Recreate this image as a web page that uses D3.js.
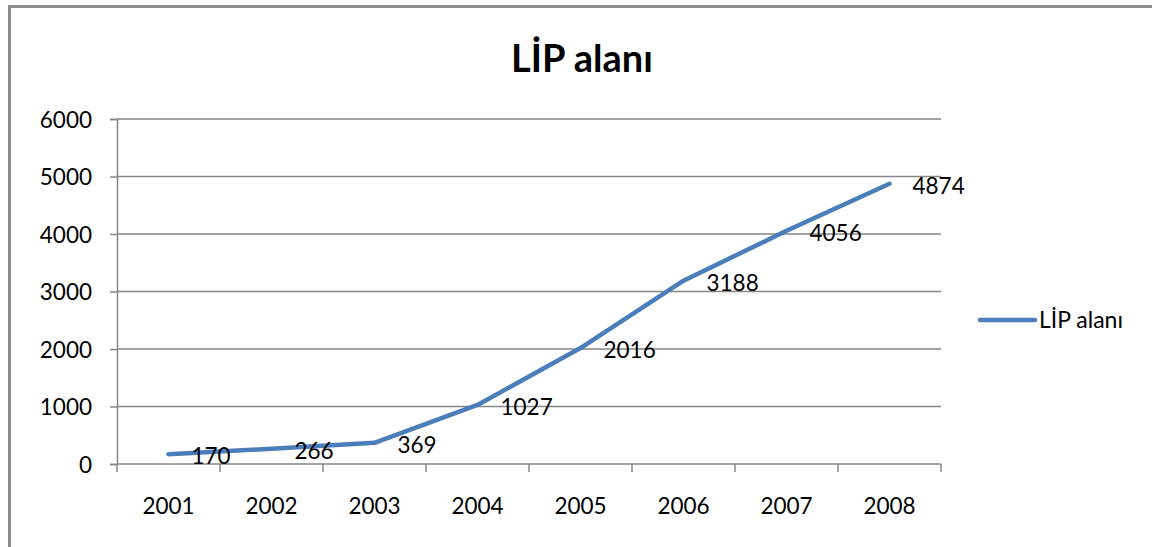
<!DOCTYPE html>
<html>
<head>
<meta charset="utf-8">
<script src="https://cdn.jsdelivr.net/npm/d3@7"></script>
<style>
  html, body { margin: 0; padding: 0; background: #fff; }
  svg { display: block; font-family: Lato, "Liberation Sans", sans-serif; }
</style>
</head>
<body>
<svg id="chart" width="1152" height="547"></svg>
<script>
// Yearly LİP area values
const years = ["2001", "2002", "2003", "2004", "2005", "2006", "2007", "2008"];
const values = [170, 266, 369, 1027, 2016, 3188, 4056, 4874];
const yTicks = [0, 1000, 2000, 3000, 4000, 5000, 6000];
const seriesName = "LİP alanı";
const chartTitle = "LİP alanı";

const svg = d3.select("#chart");
const W = 1152, H = 547;
const plot = { left: 117, right: 941, top: 119, bottom: 464 };
const gridColor = "#868686";
const lineColor = "#4a7ebb";
const labelSize = 22.5;

// outer chart frame (only top and left edges fall inside the view)
svg.append("path")
  .attr("d", `M9.5,${H + 5} V6.5 H${W + 5}`)
  .attr("fill", "none")
  .attr("stroke", "#8c8c8c")
  .attr("stroke-width", 3);

const x = d3.scaleBand().domain(years).range([plot.left, plot.right]).padding(0);
const y = d3.scaleLinear().domain([0, 6000]).range([plot.bottom, plot.top]);

// horizontal gridlines
svg.append("g")
  .selectAll("line")
  .data(yTicks.filter(t => t > 0))
  .join("line")
  .attr("x1", plot.left).attr("x2", plot.right)
  .attr("y1", d => y(d)).attr("y2", d => y(d))
  .attr("stroke", gridColor).attr("stroke-width", 1.5);

// y axis
const yAxis = svg.append("g")
  .attr("transform", `translate(${plot.left},0)`)
  .call(d3.axisLeft(y).tickValues(yTicks).tickSize(7).tickPadding(18).tickFormat(d3.format("d")));
yAxis.select(".domain").attr("stroke", gridColor).attr("stroke-width", 1.5);
yAxis.selectAll(".tick line").attr("stroke", gridColor).attr("stroke-width", 1.5);
yAxis.selectAll(".tick text")
  .attr("font-size", labelSize).attr("fill", "#000").attr("font-family", "Lato, sans-serif")
  .attr("dy", "0.36em");

// x axis with ticks between categories
const xAxisG = svg.append("g").attr("transform", `translate(0,${plot.bottom})`);
xAxisG.append("line")
  .attr("x1", plot.left).attr("x2", plot.right)
  .attr("stroke", gridColor).attr("stroke-width", 1.5);
const boundaries = years.map(d => x(d)).concat([x(years[years.length - 1]) + x.bandwidth()]);
xAxisG.selectAll("line.tk")
  .data(boundaries)
  .join("line")
  .attr("class", "tk")
  .attr("x1", d => d).attr("x2", d => d)
  .attr("y1", 0).attr("y2", 8)
  .attr("stroke", gridColor).attr("stroke-width", 1.5);
xAxisG.selectAll("text")
  .data(years)
  .join("text")
  .attr("x", d => x(d) + x.bandwidth() / 2)
  .attr("y", 50)
  .attr("text-anchor", "middle")
  .attr("font-size", labelSize)
  .attr("fill", "#000")
  .text(d => d);

// data line
const pts = years.map((yr, i) => ({ yr, v: values[i] }));
const line = d3.line()
  .x(d => x(d.yr) + x.bandwidth() / 2)
  .y(d => y(d.v));
svg.append("path")
  .datum(pts)
  .attr("d", line)
  .attr("fill", "none")
  .attr("stroke", lineColor)
  .attr("stroke-width", 4.5)
  .attr("stroke-linecap", "round")
  .attr("stroke-linejoin", "round");

// value labels to the right of each point
svg.append("g")
  .selectAll("text")
  .data(pts)
  .join("text")
  .attr("x", d => x(d.yr) + x.bandwidth() / 2 + 23)
  .attr("y", d => y(d.v) + 10)
  .attr("font-size", labelSize)
  .attr("fill", "#000")
  .text(d => d.v);

// title
svg.append("text")
  .attr("x", 582)
  .attr("y", 72)
  .attr("text-anchor", "middle")
  .attr("font-size", 38)
  .attr("font-weight", "bold")
  .attr("fill", "#000")
  .text(chartTitle);

// legend
const lg = svg.append("g").attr("transform", "translate(980,320)");
lg.append("line")
  .attr("x1", 0).attr("x2", 55)
  .attr("stroke", lineColor).attr("stroke-width", 4.5).attr("stroke-linecap", "round");
lg.append("text")
  .attr("x", 59).attr("y", 8)
  .attr("font-size", 23)
  .attr("fill", "#000")
  .text(seriesName);
</script>
</body>
</html>
